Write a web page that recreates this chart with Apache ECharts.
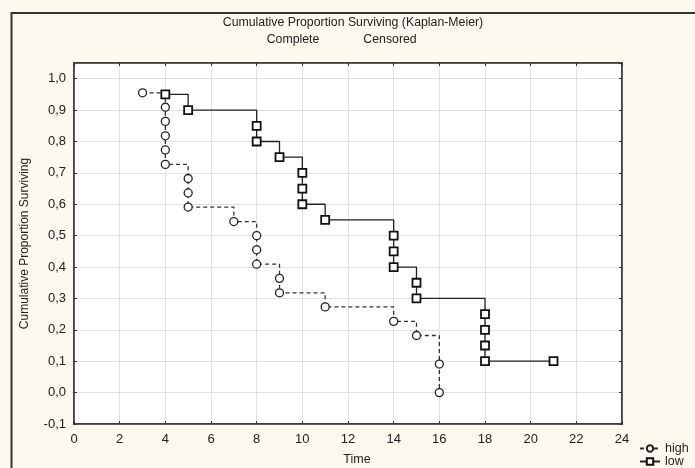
<!DOCTYPE html>
<html>
<head>
<meta charset="utf-8">
<script src="https://cdn.jsdelivr.net/npm/echarts@6/dist/echarts.min.js"></script>
<style>
html,body{margin:0;padding:0;background:#fdf9ef;}
#c{width:695px;height:468px;}
</style>
</head>
<body>
<div id="c"></div>
<script>
// ---- data ----
const highTime = [3, 4, 4, 4, 4, 4, 5, 5, 5, 7, 8, 8, 8, 9, 9, 11, 14, 15, 16, 16];
const highSurv = [0.955, 0.909, 0.864, 0.818, 0.773, 0.727, 0.682, 0.636, 0.591, 0.545, 0.500, 0.455, 0.409, 0.364, 0.318, 0.273, 0.227, 0.182, 0.091, 0.0];
const lowTime = [4, 5, 8, 8, 9, 10, 10, 10, 11, 14, 14, 14, 15, 15, 18, 18, 18, 18, 21];
const lowSurv = [0.95, 0.90, 0.85, 0.80, 0.75, 0.70, 0.65, 0.60, 0.55, 0.50, 0.45, 0.40, 0.35, 0.30, 0.25, 0.20, 0.15, 0.10, 0.10];
const xTicks = [0, 2, 4, 6, 8, 10, 12, 14, 16, 18, 20, 22, 24];
const seriesNames = ['high', 'low'];
const titleText = 'Cumulative Proportion Surviving (Kaplan-Meier)';
const subText1 = 'Complete';
const subText2 = 'Censored';
const xName = 'Time';
const yName = 'Cumulative Proportion Surviving';

const highData = highTime.map((t, i) => [t, highSurv[i]]);
const lowData = lowTime.map((t, i) => [t, lowSurv[i]]);

const font = 'Liberation Sans, Arial, sans-serif';
const chart = echarts.init(document.getElementById('c'));
const fmtY = v => {
  const r = Math.round(v * 10);
  if (Math.abs(v * 10 - r) > 0.01) return '';
  return (r / 10).toFixed(1).replace('.', ',');
};
const fmtX = v => xTicks.includes(Math.round(v)) && Math.abs(v - Math.round(v)) < 1e-6 ? String(Math.round(v)) : '';

const gridLine = {show: true, lineStyle: {color: '#e2e2e2', width: 1}};
const axLine = {show: true, onZero: false, lineStyle: {color: '#333', width: 1.5}};
const tick = {show: true, inside: true, length: 3, lineStyle: {color: '#333'}};
const legendBase = {orient: 'horizontal', left: 634, itemWidth: 20, itemHeight: 8,
  textStyle: {fontSize: 12.5, color: '#222', fontFamily: font}};

chart.setOption({
  backgroundColor: '#fdf9ef',
  animation: false,
  textStyle: {fontFamily: font},
  graphic: [
    {type: 'rect', shape: {x: 11.5, y: 13, width: 700, height: 470}, style: {fill: 'none', stroke: '#333', lineWidth: 2}, silent: true},
    {type: 'text', x: 353, y: 23, style: {text: titleText, font: '12.3px ' + font, fill: '#222', textAlign: 'center', textVerticalAlign: 'middle'}},
    {type: 'text', x: 293, y: 40, style: {text: subText1, font: '12.3px ' + font, fill: '#222', textAlign: 'center', textVerticalAlign: 'middle'}},
    {type: 'text', x: 390, y: 40, style: {text: subText2, font: '12.3px ' + font, fill: '#222', textAlign: 'center', textVerticalAlign: 'middle'}}
  ],
  grid: {left: 74, top: 63, width: 548, height: 361, containLabel: false, outerBoundsMode: 'none',
         show: true, backgroundColor: '#fff', borderColor: '#333', borderWidth: 1.5},
  legend: [
    Object.assign({}, legendBase, {top: 437, data: [seriesNames[0]]}),
    Object.assign({}, legendBase, {top: 450, data: [seriesNames[1]]})
  ],
  xAxis: [
    {type: 'value', min: 0, max: 24, interval: 2, name: xName, nameLocation: 'middle', nameGap: 29,
     nameTextStyle: {fontSize: 12.5, color: '#222', padding: [0, 0, 0, 18]},
     axisLine: axLine, axisTick: tick, splitLine: gridLine,
     axisLabel: {fontSize: 13, color: '#222', margin: 9, formatter: fmtX}},
    {type: 'value', position: 'top', min: 0, max: 24, interval: 2,
     axisLine: axLine, axisTick: tick, splitLine: {show: false}, axisLabel: {show: false}}
  ],
  yAxis: [
    {type: 'value', min: -0.1, max: 1.05, interval: 0.1, name: yName, nameLocation: 'middle', nameGap: 43,
     nameTextStyle: {fontSize: 12, color: '#222'},
     axisLine: axLine, axisTick: tick, splitLine: gridLine,
     axisLabel: {fontSize: 13, color: '#222', margin: 8, formatter: fmtY, showMaxLabel: false}},
    {type: 'value', position: 'right', min: -0.1, max: 1.05, interval: 0.1,
     axisLine: axLine, axisTick: tick, splitLine: {show: false}, axisLabel: {show: false}}
  ],
  series: [
    {name: seriesNames[0], type: 'line', step: 'end', data: highData, xAxisIndex: 0, yAxisIndex: 0,
     symbol: 'circle', symbolSize: 8, showAllSymbol: true,
     lineStyle: {color: '#333', width: 1.3, type: [4, 3]},
     itemStyle: {color: '#fff', borderColor: '#222', borderWidth: 1.3}},
    {name: seriesNames[1], type: 'line', step: 'end', data: lowData, xAxisIndex: 0, yAxisIndex: 0,
     symbol: 'rect', symbolSize: 8, showAllSymbol: true,
     lineStyle: {color: '#222', width: 1.3},
     itemStyle: {color: '#fff', borderColor: '#111', borderWidth: 1.8}}
  ]
});
</script>
</body>
</html>
